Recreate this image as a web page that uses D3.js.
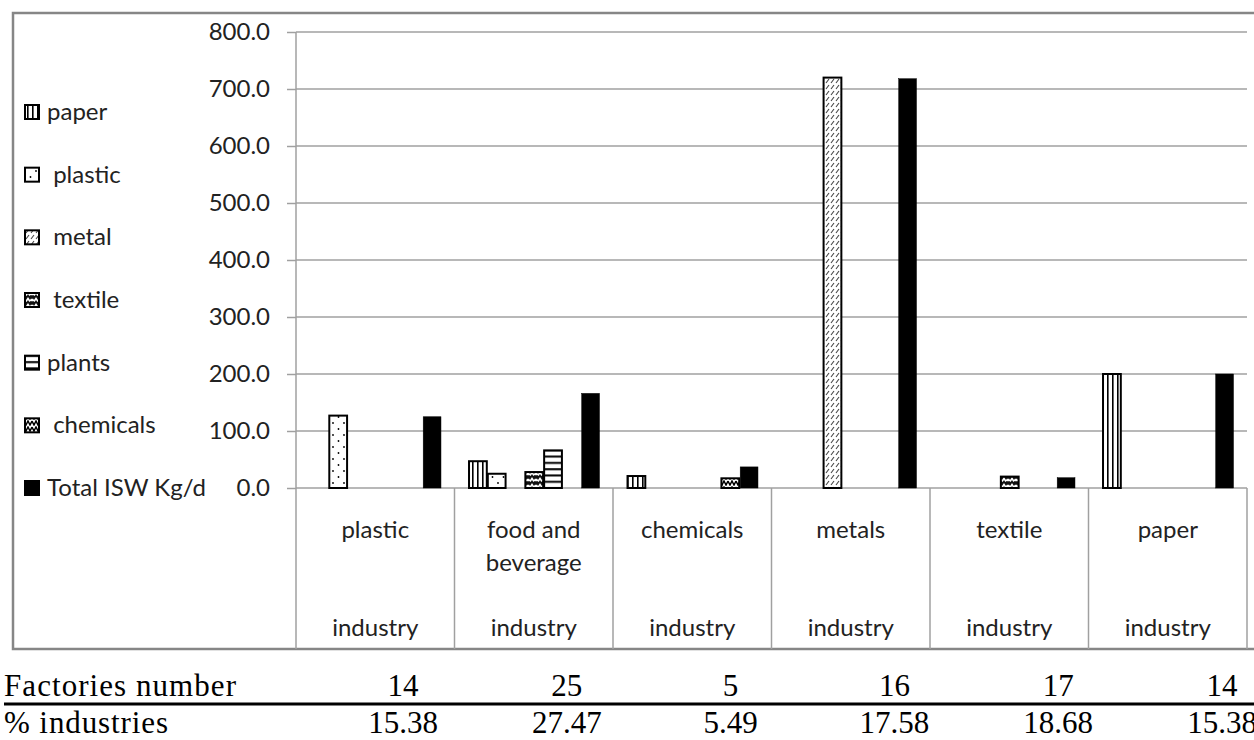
<!DOCTYPE html>
<html>
<head>
<meta charset="utf-8">
<script src="https://cdn.jsdelivr.net/npm/d3@7"></script>
<style>
  html, body { margin: 0; padding: 0; background: #fff; }
  svg { display: block; }
</style>
</head>
<body>
<div id="chart"></div>
<script>
// Datos
const categories = ["plastic", "food and beverage", "chemicals", "metals", "textile", "paper"]
const catLines = [["plastic"], ["food and", "beverage"], ["chemicals"], ["metals"], ["textile"], ["paper"]]
const series = ["paper", "plastic", "metal", "textile", "plants", "chemicals", "Total ISW Kg/d"]
const legendLabels = ["paper", " plastic", " metal", " textile", "plants", " chemicals", "Total ISW Kg/d"]

const paperVals     = [0, 47, 21, 0, 0, 200]
const plasticVals   = [127, 25, 0, 0, 0, 0]
const metalVals     = [0, 0, 0, 720, 0, 0]
const textileVals   = [0, 28, 0, 0, 20, 0]
const plantsVals    = [0, 66, 0, 0, 0, 0]
const chemicalsVals = [0, 0, 17, 0, 0, 0]
const totalVals     = [125, 166, 37, 718, 18, 200]

const yTicks = [0, 100, 200, 300, 400, 500, 600, 700, 800]

const factories = [14, 25, 5, 16, 17, 14]
const pctIndustries = ["15.38", "27.47", "5.49", "17.58", "18.68", "15.38"]

const seriesValues = [paperVals, plasticVals, metalVals, textileVals, plantsVals, chemicalsVals, totalVals]

const width = 1254, height = 740
const sansFont = "Lato, 'Open Sans', sans-serif"
const serifFont = "'Liberation Serif', 'Times New Roman', serif"
const gridColor = "#a0a0a0"

const svg = d3.select("#chart")
  .append("svg")
  .attr("width", width)
  .attr("height", height)
  .attr("viewBox", [0, 0, width, height])

// Patrones de relleno (estilo Excel blanco y negro)
const defs = svg.append("defs")

function pattern(id, w, h, bg) {
  const p = defs.append("pattern")
    .attr("id", id)
    .attr("patternUnits", "userSpaceOnUse")
    .attr("width", w)
    .attr("height", h)
  p.append("rect").attr("width", w).attr("height", h).attr("fill", bg)
  return p
}

// paper: rayas verticales
pattern("pat-paper", 5, 10, "#fff")
  .append("rect").attr("x", 2).attr("y", 0).attr("width", 1.6).attr("height", 10).attr("fill", "#000")

// plastic: puntos
const pPlastic = pattern("pat-plastic", 11, 12, "#fff")
pPlastic.append("circle").attr("cx", 3).attr("cy", 3).attr("r", 0.9).attr("fill", "#000")
pPlastic.append("circle").attr("cx", 8.5).attr("cy", 9).attr("r", 0.9).attr("fill", "#000")

// metal: diagonales cortas grises
pattern("pat-metal", 5, 6, "#fff")
  .append("path").attr("d", "M1,5 L4,1").attr("stroke", "#444").attr("stroke-width", 1.1)

// textile: tejido
pattern("pat-textile", 8, 6, "#fff")
  .append("path").attr("d", "M0,1.5 L2,4.5 L4,1.5 L6,4.5 L8,1.5 M0,4.5 L2,1.5 M6,1.5 L8,4.5")
  .attr("fill", "none").attr("stroke", "#111").attr("stroke-width", 1.6)

// plants: rayas horizontales
pattern("pat-plants", 6, 6.3, "#fff")
  .append("rect").attr("x", 0).attr("y", 2).attr("width", 6).attr("height", 2).attr("fill", "#000")

// chemicals: zigzag
pattern("pat-chemicals", 8, 6, "#fff")
  .append("path").attr("d", "M0,1 L2,5 L4,1 L6,5 L8,1")
  .attr("fill", "none").attr("stroke", "#000").attr("stroke-width", 1.5)

const fills = ["url(#pat-paper)", "url(#pat-plastic)", "url(#pat-metal)", "url(#pat-textile)",
               "url(#pat-plants)", "url(#pat-chemicals)", "#000"]

// Escalas
const plotLeft = 296, plotRight = 1247, plotTop = 32, plotBottom = 488, tableBottom = 649

const x = d3.scaleBand()
  .domain(categories)
  .range([plotLeft, plotRight])
  .padding(0)

const xs = d3.scaleBand()
  .domain(series)
  .range([0, x.bandwidth()])
  .paddingInner(0)
  .paddingOuter(0.72)

const y = d3.scaleLinear()
  .domain([0, 800])
  .range([plotBottom, plotTop])

// Borde exterior del grafico
svg.append("rect")
  .attr("x", 13).attr("y", 13)
  .attr("width", 1270).attr("height", tableBottom - 13)
  .attr("fill", "none")
  .attr("stroke", "#868686")
  .attr("stroke-width", 2.5)

// Grilla y eje Y
const yAxis = svg.append("g")
  .attr("transform", `translate(${plotLeft},0)`)
  .call(d3.axisLeft(y).tickValues(yTicks).tickSize(9).tickPadding(17).tickFormat(d3.format(".1f")))

yAxis.select(".domain").remove()
yAxis.selectAll(".tick line").attr("stroke", gridColor).attr("stroke-width", 1.5)
yAxis.selectAll(".tick text")
  .attr("font-family", sansFont)
  .attr("font-size", 24)
  .attr("fill", "#222")

svg.append("g")
  .selectAll("line")
  .data(yTicks)
  .join("line")
  .attr("x1", plotLeft).attr("x2", plotRight)
  .attr("y1", d => y(d)).attr("y2", d => y(d))
  .attr("stroke", gridColor)
  .attr("stroke-width", 1.5)

// Linea del eje Y (continua hasta la tabla de categorias)
svg.append("line")
  .attr("x1", plotLeft).attr("x2", plotLeft)
  .attr("y1", plotTop).attr("y2", tableBottom)
  .attr("stroke", gridColor).attr("stroke-width", 1.5)

// Separadores de categoria
svg.append("g")
  .selectAll("line")
  .data(categories)
  .join("line")
  .attr("x1", d => x(d) + x.bandwidth()).attr("x2", d => x(d) + x.bandwidth())
  .attr("y1", plotBottom).attr("y2", tableBottom)
  .attr("stroke", gridColor).attr("stroke-width", 1.5)

// Barras
const barData = []
series.forEach((s, si) => {
  categories.forEach((c, ci) => {
    const v = seriesValues[si][ci]
    if (v > 0) barData.push({ s, si, c, v })
  })
})

svg.append("g")
  .selectAll("rect")
  .data(barData)
  .join("rect")
  .attr("x", d => x(d.c) + xs(d.s) + 1)
  .attr("y", d => y(d.v))
  .attr("width", xs.bandwidth() - 1)
  .attr("height", d => y(0) - y(d.v))
  .attr("fill", d => fills[d.si])
  .attr("stroke", "#000")
  .attr("stroke-width", d => d.si === 6 ? 0.5 : 2)

// Etiquetas de categoria
const catG = svg.append("g")
  .attr("font-family", sansFont)
  .attr("font-size", 24)
  .attr("fill", "#222")
  .attr("text-anchor", "middle")

categories.forEach((c, i) => {
  const cx = x(c) + x.bandwidth() / 2
  catLines[i].forEach((line, li) => {
    catG.append("text").attr("x", cx).attr("y", 538 + li * 33).text(line)
  })
  catG.append("text").attr("x", cx).attr("y", 636).text("industry")
})

// Leyenda
const ly = d3.scalePoint().domain(series).range([112, 488])
const legend = svg.append("g")
  .attr("font-family", sansFont)
  .attr("font-size", 24)
  .attr("fill", "#222")

legend.selectAll("rect")
  .data(series)
  .join("rect")
  .attr("x", 25)
  .attr("y", d => ly(d) - 7)
  .attr("width", 14)
  .attr("height", 14)
  .attr("fill", (d, i) => fills[i])
  .attr("stroke", "#000")
  .attr("stroke-width", 2)

legend.selectAll("text")
  .data(series)
  .join("text")
  .attr("x", 47)
  .attr("y", d => ly(d) + 8)
  .style("white-space", "pre")
  .text((d, i) => legendLabels[i])

// Tabla inferior
const tx = d3.scalePoint().domain(categories).range([403, 1222])
const table = svg.append("g")
  .attr("font-family", serifFont)
  .attr("font-size", 31)
  .attr("fill", "#000")

table.append("text").attr("x", 4).attr("y", 696).attr("textLength", 232).text("Factories number")
table.append("text").attr("x", 4).attr("y", 733).attr("textLength", 164).text("% industries")

table.append("g")
  .attr("text-anchor", "middle")
  .selectAll("text")
  .data(factories)
  .join("text")
  .attr("x", (d, i) => tx(categories[i]))
  .attr("y", 696)
  .text(d => d)

table.append("g")
  .attr("text-anchor", "middle")
  .selectAll("text")
  .data(pctIndustries)
  .join("text")
  .attr("x", (d, i) => tx(categories[i]))
  .attr("y", 733)
  .text(d => d)

svg.append("line")
  .attr("x1", 4).attr("x2", width)
  .attr("y1", 704).attr("y2", 704)
  .attr("stroke", "#000").attr("stroke-width", 3)
</script>
</body>
</html>
